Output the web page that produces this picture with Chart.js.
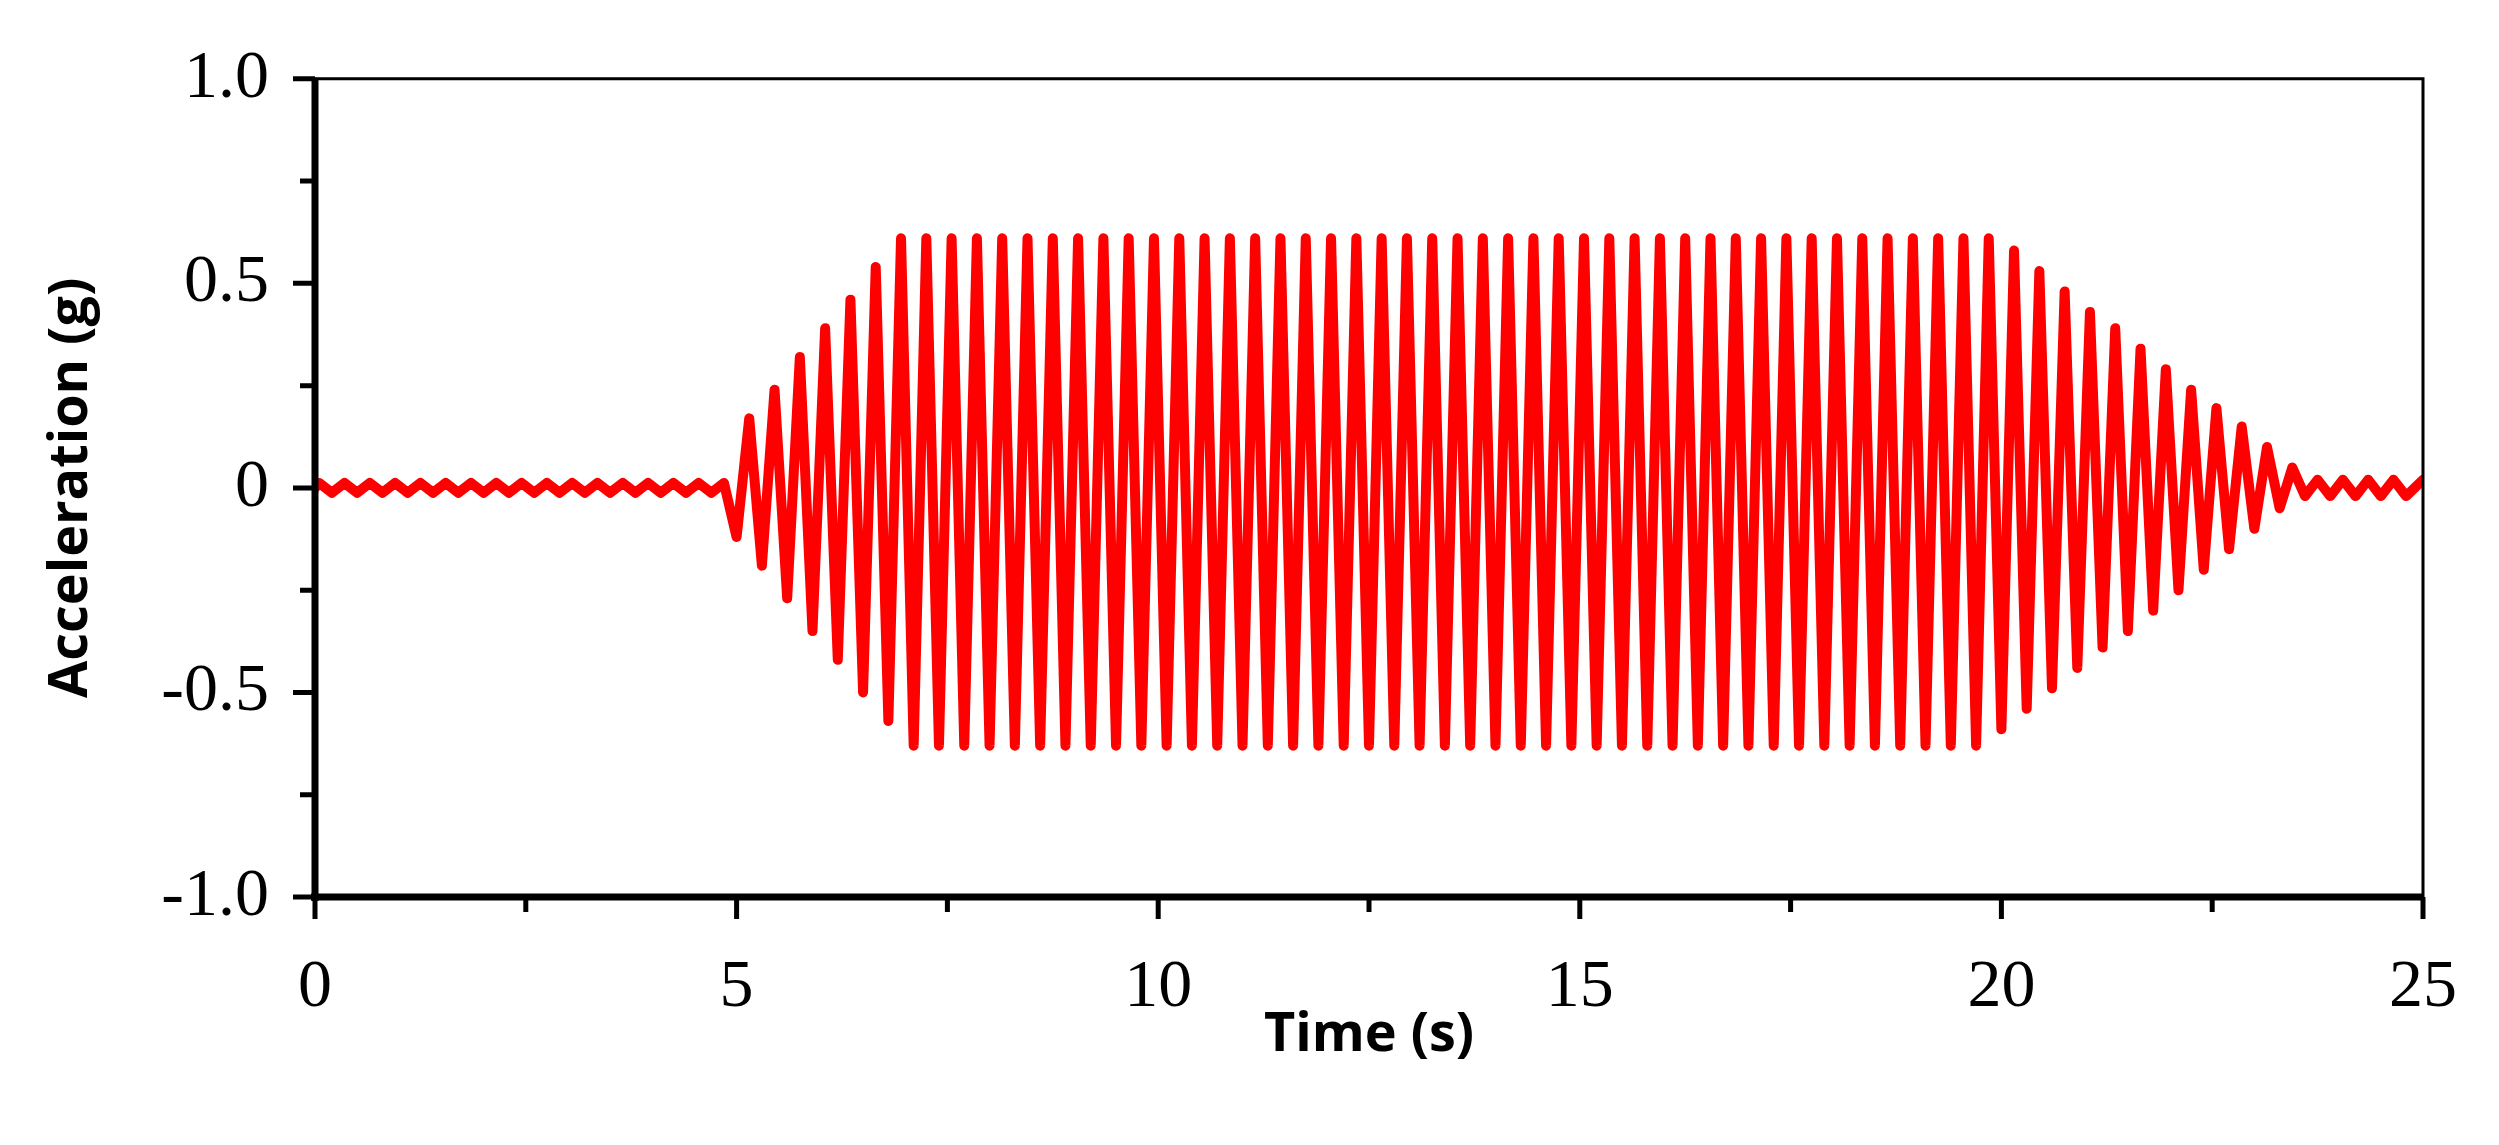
<!DOCTYPE html>
<html>
<head>
<meta charset="utf-8">
<script src="https://cdn.jsdelivr.net/npm/chart.js@4.4.1/dist/chart.umd.min.js"></script>
<style>
  html, body { margin: 0; padding: 0; background: #fff; }
  #wrap { width: 2499px; height: 1145px; }
</style>
</head>
<body>
<div id="wrap"><canvas id="accel"></canvas></div>
<script>
// time (s) of each sample
const times = [
  0,
  0.05, 0.2, 0.35, 0.5, 0.65, 0.8, 0.95, 1.1, 1.25, 1.4,
  1.55, 1.7, 1.85, 2.0, 2.15, 2.3, 2.45, 2.6, 2.75, 2.9,
  3.05, 3.2, 3.35, 3.5, 3.65, 3.8, 3.95, 4.1, 4.25, 4.4,
  4.55, 4.7, 4.85, 5.0, 5.15, 5.3, 5.45, 5.6, 5.75, 5.9,
  6.05, 6.2, 6.35, 6.5, 6.65, 6.8, 6.95, 7.1, 7.25, 7.4,
  7.55, 7.7, 7.85, 8.0, 8.15, 8.3, 8.45, 8.6, 8.75, 8.9,
  9.05, 9.2, 9.35, 9.5, 9.65, 9.8, 9.95, 10.1, 10.25, 10.4,
  10.55, 10.7, 10.85, 11.0, 11.15, 11.3, 11.45, 11.6, 11.75, 11.9,
  12.05, 12.2, 12.35, 12.5, 12.65, 12.8, 12.95, 13.1, 13.25, 13.4,
  13.55, 13.7, 13.85, 14.0, 14.15, 14.3, 14.45, 14.6, 14.75, 14.9,
  15.05, 15.2, 15.35, 15.5, 15.65, 15.8, 15.95, 16.1, 16.25, 16.4,
  16.55, 16.7, 16.85, 17.0, 17.15, 17.3, 17.45, 17.6, 17.75, 17.9,
  18.05, 18.2, 18.35, 18.5, 18.65, 18.8, 18.95, 19.1, 19.25, 19.4,
  19.55, 19.7, 19.85, 20.0, 20.15, 20.3, 20.45, 20.6, 20.75, 20.9,
  21.05, 21.2, 21.35, 21.5, 21.65, 21.8, 21.95, 22.1, 22.25, 22.4,
  22.55, 22.7, 22.85, 23.0, 23.15, 23.3, 23.45, 23.6, 23.75, 23.9,
  24.05, 24.2, 24.35, 24.5, 24.65, 24.8,
  25
];

// acceleration (g) at each sample
const accel = [
  0.0,
  0.012, -0.012, 0.012, -0.012, 0.012, -0.012, 0.012, -0.012, 0.012, -0.012,
  0.012, -0.012, 0.012, -0.012, 0.012, -0.012, 0.012, -0.012, 0.012, -0.012,
  0.012, -0.012, 0.012, -0.012, 0.012, -0.012, 0.012, -0.012, 0.012, -0.012,
  0.012, -0.012, 0.012,
  // ramp up
  -0.12, 0.17, -0.19, 0.24, -0.27, 0.32, -0.35, 0.39, -0.42, 0.46, -0.50, 0.54, -0.57, 0.61,
  // steady part
  -0.63, 0.61, -0.63, 0.61, -0.63, 0.61, -0.63, 0.61, -0.63, 0.61,
  -0.63, 0.61, -0.63, 0.61, -0.63, 0.61, -0.63, 0.61, -0.63, 0.61,
  -0.63, 0.61, -0.63, 0.61, -0.63, 0.61, -0.63, 0.61, -0.63, 0.61,
  -0.63, 0.61, -0.63, 0.61, -0.63, 0.61, -0.63, 0.61, -0.63, 0.61,
  -0.63, 0.61, -0.63, 0.61, -0.63, 0.61, -0.63, 0.61, -0.63, 0.61,
  -0.63, 0.61, -0.63, 0.61, -0.63, 0.61, -0.63, 0.61, -0.63, 0.61,
  -0.63, 0.61, -0.63, 0.61, -0.63, 0.61, -0.63, 0.61, -0.63, 0.61,
  -0.63, 0.61, -0.63, 0.61, -0.63, 0.61, -0.63, 0.61, -0.63, 0.61,
  -0.63, 0.61, -0.63, 0.61, -0.63,
  // ramp down
  0.61, -0.59, 0.58, -0.54, 0.53, -0.49, 0.48, -0.44, 0.43, -0.39,
  0.39, -0.35, 0.34, -0.30, 0.29, -0.25, 0.24, -0.20, 0.195, -0.15,
  0.15, -0.10, 0.10, -0.05, 0.05,
  -0.02, 0.02, -0.02, 0.02, -0.02, 0.02, -0.02, 0.02, -0.02,
  0.02
];

const xTicks = [0, 5, 10, 15, 20, 25];
const yTicks = [-1, -0.5, 0, 0.5, 1];
const xMinor = [2.5, 7.5, 12.5, 17.5, 22.5];
const yMinor = [-0.75, -0.25, 0.25, 0.75];

const points = times.map((t, i) => ({ x: t, y: accel[i] }));

// ticks, frame and axis titles
const framePlugin = {
  id: 'frame',
  afterDraw(chart) {
    const { ctx, chartArea: a, scales: { x, y } } = chart;
    ctx.save();
    ctx.strokeStyle = '#000';
    ctx.lineWidth = 3;
    ctx.beginPath();
    ctx.moveTo(a.left, a.top); ctx.lineTo(a.right, a.top); ctx.lineTo(a.right, a.bottom);
    ctx.stroke();
    ctx.lineWidth = 7;
    ctx.beginPath();
    ctx.moveTo(a.left, a.top - 1); ctx.lineTo(a.left, a.bottom + 4);
    ctx.moveTo(a.left - 4, a.bottom); ctx.lineTo(a.right + 1, a.bottom);
    ctx.stroke();
    ctx.lineWidth = 5;
    ctx.beginPath();
    xTicks.forEach(v => { const p = x.getPixelForValue(v); ctx.moveTo(p, a.bottom); ctx.lineTo(p, a.bottom + 22); });
    xMinor.forEach(v => { const p = x.getPixelForValue(v); ctx.moveTo(p, a.bottom); ctx.lineTo(p, a.bottom + 15); });
    yTicks.forEach(v => { const p = y.getPixelForValue(v); ctx.moveTo(a.left, p); ctx.lineTo(a.left - 22, p); });
    yMinor.forEach(v => { const p = y.getPixelForValue(v); ctx.moveTo(a.left, p); ctx.lineTo(a.left - 15, p); });
    ctx.stroke();

    ctx.fillStyle = '#000';
    ctx.font = 'bold 54px "Open Sans"';
    ctx.textAlign = 'center';
    ctx.textBaseline = 'middle';
    ctx.fillText('Time (s)', (a.left + a.right) / 2, 1036);
    ctx.translate(72, (a.top + a.bottom) / 2);
    ctx.rotate(-Math.PI / 2);
    ctx.fillText('Acceleration (g)', 0, 0);
    ctx.restore();
  }
};

new Chart(document.getElementById('accel'), {
  type: 'line',
  data: {
    datasets: [{
      data: points,
      borderColor: '#ff0000',
      borderWidth: 10,
      borderJoinStyle: 'round',
      borderCapStyle: 'round',
      pointRadius: 0,
      tension: 0,
      fill: false
    }]
  },
  options: {
    responsive: true,
    maintainAspectRatio: false,
    animation: false,
    layout: { padding: { left: 0, top: 73, right: 72, bottom: 0 } },
    plugins: { legend: { display: false }, tooltip: { enabled: false } },
    scales: {
      x: {
        type: 'linear', min: 0, max: 25,
        afterFit: s => { s.height = 248; },
        afterBuildTicks: s => { s.ticks = xTicks.map(v => ({ value: v })); },
        grid: { display: false },
        border: { display: false },
        ticks: { padding: 42, color: '#000', font: { family: '"Liberation Serif"', size: 68 } }
      },
      y: {
        min: -1, max: 1,
        afterFit: s => { s.width = 315; },
        afterBuildTicks: s => { s.ticks = yTicks.map(v => ({ value: v })); },
        grid: { display: false },
        border: { display: false },
        ticks: { padding: 38, color: '#000', font: { family: '"Liberation Serif"', size: 68 } }
      }
    }
  },
  plugins: [framePlugin]
});
</script>
</body>
</html>
